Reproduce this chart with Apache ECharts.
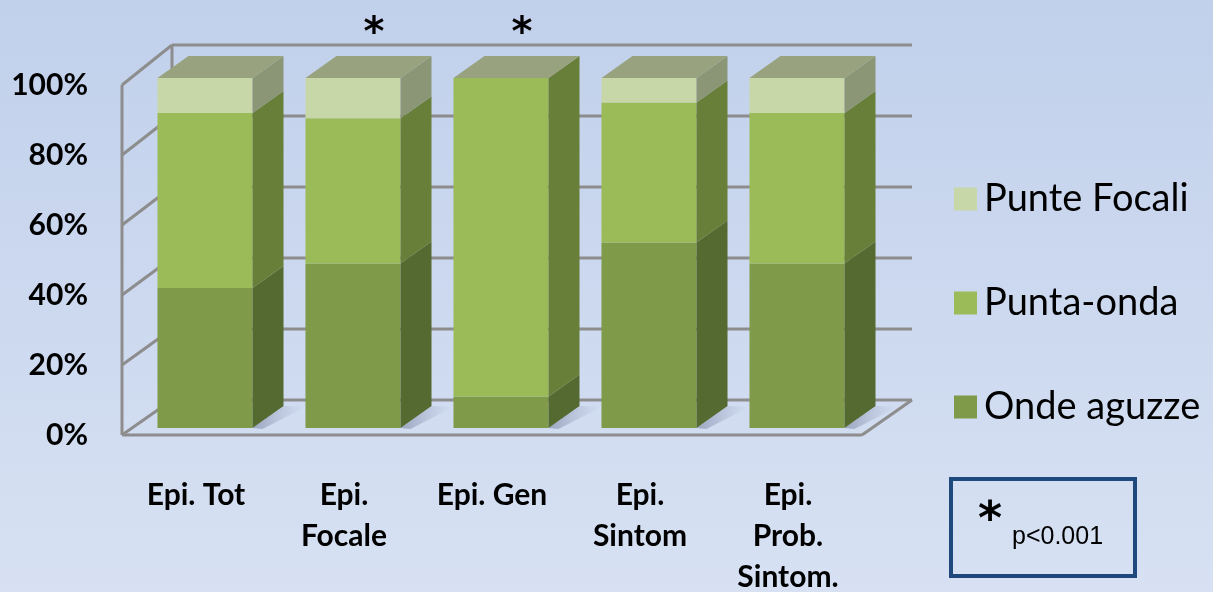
<!DOCTYPE html>
<html><head><meta charset="utf-8">
<script src="https://cdn.jsdelivr.net/npm/echarts@6/dist/echarts.min.js"></script>
<style>html,body{margin:0;padding:0;overflow:hidden;}#c{width:1213px;height:592px;}</style>
</head><body><div id="c"></div>
<script>
// ---- data ----
const categories = ['Epi. Tot', 'Epi.\nFocale', 'Epi. Gen', 'Epi.\nSintom', 'Epi.\nProb.\nSintom.'];
const ondeAguzze = [40, 47, 9, 53, 47];
const puntaOnda = [50, 41.5, 91, 40, 43];
const punteFocali = [10, 11.5, 0, 7, 10];
const significant = [0, 1, 1, 0, 0];
const yTicks = [0, 20, 40, 60, 80, 100];
const legendNames = ['Punte Focali', 'Punta-onda', 'Onde aguzze'];

// ---- style ----
const FONT = 'Lato';
const SHIFT_X = 9, SHIFT_Y = -7;      // bar front plane vs. wall front
const DEPTH_X = 31, DEPTH_Y = -22;    // bar depth
const WALL_DX = 50;                   // wall depth
const WALL_TOP_DY = -40, WALL_BOT_DY = -35;
const LINE = '#8d8d8d';
const TOPFACE = '#98a27e';
const styles = {
  'Onde aguzze': { front: '#7f9a48', side: '#556a30' },
  'Punta-onda': { front: '#9bbb59', side: '#677f39' },
  'Punte Focali': { front: '#c7d7a8', side: '#8b9676' }
};

const stackOrder = [['Onde aguzze', ondeAguzze], ['Punta-onda', puntaOnda], ['Punte Focali', punteFocali]];
const totals = categories.map((_, i) => stackOrder.reduce((s, p) => s + p[1][i], 0));
const cum = categories.map(() => 0);
const stackData = {};
stackOrder.forEach(([name, arr]) => {
  stackData[name] = arr.map((v, i) => {
    const b = cum[i];
    cum[i] += v;
    const isTop = v > 0 && Math.abs(cum[i] - totals[i]) < 1e-9 ? 1 : 0;
    return [i, b, cum[i], isTop];
  });
});

function barRender(st) {
  return function (params, api) {
    const i = api.value(0), b = api.value(1), t = api.value(2), isTop = api.value(3);
    if (t - b <= 0) return null;
    const pb = api.coord([i, b]), pt = api.coord([i, t]);
    const half = api.size([1, 0])[0] * 0.642 / 2;
    const cx = pb[0] + SHIFT_X;
    const x0 = cx - half, x1 = cx + half;
    const yb = pb[1] + SHIFT_Y, yt = pt[1] + SHIFT_Y;
    const ch = [];
    if (b === 0) {
      ch.push({ type: 'polygon', shape: { points: [[x1, yb], [x1 + DEPTH_X, yb + DEPTH_Y], [x1 + DEPTH_X + 22, yb + DEPTH_Y + 1], [x1 + 10, yb + 1]] },
        style: { fill: { type: 'linear', x: 0, y: 0, x2: 1, y2: 0, colorStops: [{ offset: 0, color: 'rgba(110,120,150,0.55)' }, { offset: 1, color: 'rgba(150,160,190,0.0)' }] } } });
    }
    ch.push({ type: 'rect', shape: { x: x0, y: yt, width: x1 - x0, height: yb - yt }, style: { fill: st.front } });
    ch.push({ type: 'polygon', shape: { points: [[x1, yt], [x1 + DEPTH_X, yt + DEPTH_Y], [x1 + DEPTH_X, yb + DEPTH_Y], [x1, yb]] }, style: { fill: st.side } });
    if (isTop) {
      ch.push({ type: 'polygon', shape: { points: [[x0, yt], [x1, yt], [x1 + DEPTH_X, yt + DEPTH_Y], [x0 + DEPTH_X, yt + DEPTH_Y]] }, style: { fill: TOPFACE } });
    }
    return { type: 'group', children: ch };
  };
}

function frameRender(params, api) {
  const v = api.value(1);
  const topY = api.coord([0, 100])[1], botY = api.coord([0, 0])[1];
  const bw = api.size([1, 0])[0];
  const left = api.coord([0, 0])[0] - bw / 2;
  const right = api.coord([categories.length - 1, 0])[0] + bw / 2;
  const fy = api.coord([0, v])[1];
  const backTop = topY + WALL_TOP_DY, backBot = botY + WALL_BOT_DY;
  const by = backTop + (fy - topY) / (botY - topY) * (backBot - backTop);
  const ls = { stroke: LINE, lineWidth: 3 };
  const ch = [
    { type: 'line', shape: { x1: left, y1: fy, x2: left + WALL_DX, y2: by }, style: ls },
    { type: 'line', shape: { x1: left + WALL_DX, y1: by, x2: right + WALL_DX, y2: by }, style: ls }
  ];
  if (v === 0) {
    ch.push({ type: 'line', shape: { x1: left, y1: topY, x2: left, y2: botY }, style: ls });
    ch.push({ type: 'line', shape: { x1: left + WALL_DX, y1: backTop, x2: left + WALL_DX, y2: backBot }, style: ls });
    ch.push({ type: 'line', shape: { x1: left, y1: botY, x2: right, y2: botY }, style: ls });
    ch.push({ type: 'line', shape: { x1: right, y1: botY, x2: right + WALL_DX, y2: backBot }, style: ls });
  }
  return { type: 'group', children: ch };
}

function starRender(params, api) {
  const i = api.value(0);
  if (!api.value(1)) return null;
  const p = api.coord([i, 100]);
  return { type: 'text', style: { text: '*', x: p[0] + SHIFT_X + 21, y: p[1] - 50, align: 'center', verticalAlign: 'middle', font: 'bold 40px "DejaVu Sans"', fill: '#000' } };
}

const chart = echarts.init(document.getElementById('c'));
const series = [
  { type: 'custom', name: 'frame', silent: true, renderItem: frameRender, data: yTicks.map(v => [0, v]), z: 1 }
];
stackOrder.forEach(([name]) => {
  series.push({ type: 'custom', name, silent: true, renderItem: barRender(styles[name]), itemStyle: { color: styles[name].front }, data: stackData[name], z: 2 });
});
series.push({ type: 'custom', name: 'stars', silent: true, renderItem: starRender, data: significant.map((s, i) => [i, s]), z: 3 });

chart.setOption({
  backgroundColor: { type: 'linear', x: 0, y: 0, x2: 0, y2: 1, colorStops: [{ offset: 0, color: '#c1d0eb' }, { offset: 1, color: '#d7e1f3' }] },
  animation: false,
  grid: { left: 122, top: 85, width: 740, height: 350, outerBoundsMode: 'none', containLabel: false },
  xAxis: {
    type: 'category', data: categories,
    axisLine: { show: false }, axisTick: { show: false },
    axisLabel: { margin: 40, fontFamily: FONT, fontWeight: 'bold', fontSize: 30, lineHeight: 41, color: '#000' }
  },
  yAxis: {
    type: 'value', min: 0, max: 100, interval: 20,
    axisLine: { show: false }, axisTick: { show: false }, splitLine: { show: false },
    axisLabel: { formatter: '{value}%', margin: 34, fontFamily: FONT, fontWeight: 'bold', fontSize: 30, color: '#000' }
  },
  legend: {
    data: legendNames, orient: 'vertical', left: 949, top: 174, icon: 'rect',
    itemWidth: 23, itemHeight: 23, itemGap: 64, selectedMode: false,
    textStyle: { fontFamily: FONT, fontSize: 38, lineHeight: 40, color: '#000', padding: [0, 0, 0, 2] }
  },
  graphic: [
    { type: 'rect', shape: { x: 951, y: 479, width: 184, height: 97 }, style: { fill: 'none', stroke: '#1f497d', lineWidth: 4 } },
    { type: 'text', style: { text: '*', x: 990, y: 522, align: 'center', verticalAlign: 'middle', font: 'bold 46px "DejaVu Sans"', fill: '#000' } },
    { type: 'text', style: { text: 'p<0.001', x: 1012, y: 537, align: 'left', verticalAlign: 'middle', font: '25px "Liberation Sans"', fill: '#000' } }
  ],
  series
});
</script></body></html>
